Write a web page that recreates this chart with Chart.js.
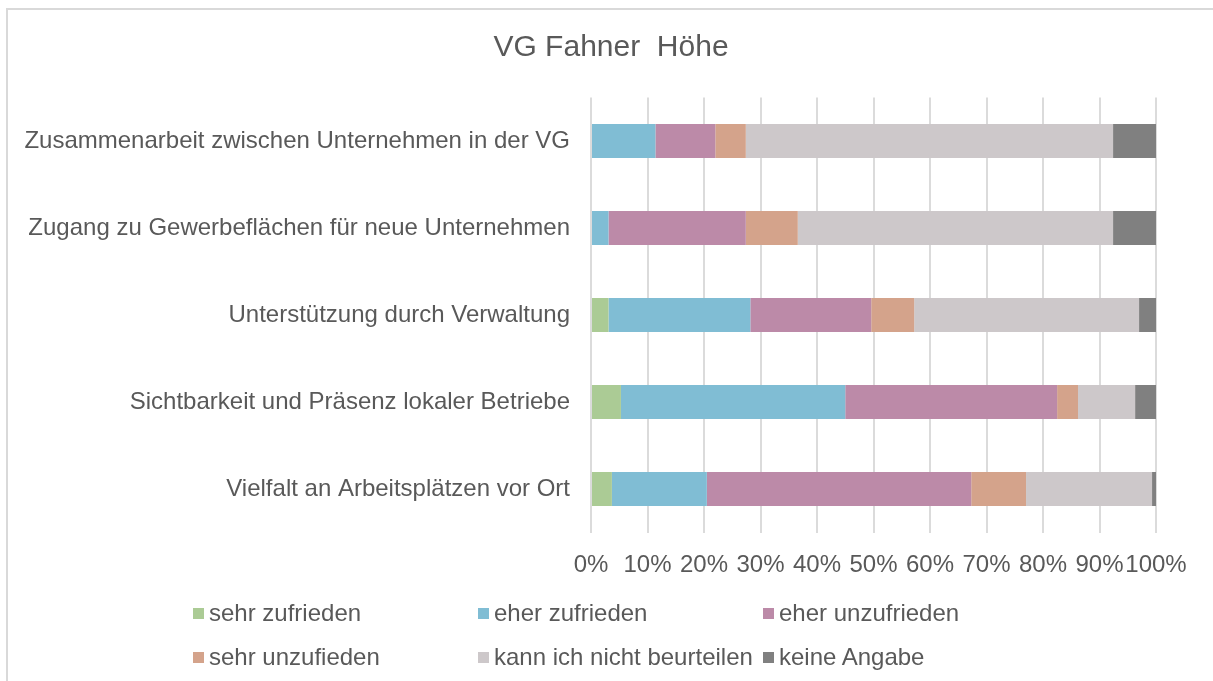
<!DOCTYPE html>
<html lang="de">
<head>
<meta charset="utf-8">
<title>VG Fahner Höhe</title>
<script src="https://cdn.jsdelivr.net/npm/chart.js@4.4.1/dist/chart.umd.min.js"></script>
<style>
  html, body { margin: 0; padding: 0; background: #fff; overflow: hidden; }
  #wrap { position: relative; width: 1213px; height: 681px; }
  #frame { position: absolute; left: 6px; top: 8px; width: 1230px; height: 700px;
           border: 2px solid #d9d9d9; box-sizing: border-box; }
  #chartBox { position: absolute; left: 0; top: 0; width: 1213px; height: 681px; }
  #legend { position: absolute; left: 193px; top: 591px;
            display: grid; grid-template-columns: 285px 285px auto; grid-auto-rows: 44px;
            font-family: "Liberation Sans", Arial, sans-serif; font-size: 24px; color: #595959; }
  #legend .item { display: flex; align-items: center; white-space: nowrap; }
  #legend .box { width: 11px; height: 11px; margin-right: 5px; flex: none; }
</style>
</head>
<body>
<div id="wrap">
  <div id="frame"></div>
  <div id="chartBox"><canvas id="satChart"></canvas></div>
  <div id="legend"></div>
</div>
<script>
const categories = [
  'Zusammenarbeit zwischen Unternehmen in der VG',
  'Zugang zu Gewerbeflächen für neue Unternehmen',
  'Unterstützung durch Verwaltung',
  'Sichtbarkeit und Präsenz lokaler Betriebe',
  'Vielfalt an Arbeitsplätzen vor Ort'
];

// Anteile in Prozent, je Aussage von oben nach unten
const sehrZufrieden   = [0, 0, 3.1, 5.3, 3.7];
const eherZufrieden   = [11.4, 3.1, 25.1, 39.7, 16.8];
const eherUnzufrieden = [10.6, 24.3, 21.4, 37.5, 46.8];
const sehrUnzufrieden = [5.4, 9.2, 7.6, 3.7, 9.7];
const nichtBeurteilen = [65.0, 55.8, 39.8, 10.1, 22.3];
const keineAngabe     = [7.6, 7.6, 3.0, 3.7, 0.7];

const tickLabels = ['0%', '10%', '20%', '30%', '40%', '50%', '60%', '70%', '80%', '90%', '100%'];

const FONT = '"Liberation Sans", Arial, sans-serif';
const TEXT = '#595959';
const TITLE = 'VG Fahner  Höhe';

const datasets = [
  { label: 'sehr zufrieden', data: sehrZufrieden, backgroundColor: '#abcb95' },
  { label: 'eher zufrieden', data: eherZufrieden, backgroundColor: '#80bdd4' },
  { label: 'eher unzufrieden', data: eherUnzufrieden, backgroundColor: '#bc8aa8' },
  { label: 'sehr unzufieden', data: sehrUnzufrieden, backgroundColor: '#d4a38b' },
  { label: 'kann ich nicht beurteilen', data: nichtBeurteilen, backgroundColor: '#cdc8ca' },
  { label: 'keine Angabe', data: keineAngabe, backgroundColor: '#808080' }
].map(d => Object.assign(d, { barPercentage: 0.39, categoryPercentage: 1, borderWidth: 0 }));

// Titel mittig über dem ganzen Rahmen, nicht nur über der Zeichenfläche
const frameTitle = {
  id: 'frameTitle',
  afterDraw(chart) {
    const c = chart.ctx;
    c.save();
    c.font = '30px ' + FONT;
    c.fillStyle = TEXT;
    c.textAlign = 'center';
    c.textBaseline = 'middle';
    c.fillText(TITLE, 611, 48);
    c.restore();
  }
};

const ctx = document.getElementById('satChart').getContext('2d');
const chart = new Chart(ctx, {
  type: 'bar',
  data: { labels: categories, datasets: datasets },
  plugins: [frameTitle],
  options: {
    indexAxis: 'y',
    responsive: true,
    maintainAspectRatio: false,
    animation: false,
    layout: { padding: { left: 0, right: 57, top: 97.5, bottom: 0 } },
    plugins: {
      legend: { display: false },
      tooltip: { enabled: false },
      title: { display: false }
    },
    scales: {
      x: {
        stacked: true,
        min: 0,
        max: 100,
        z: 1,
        border: { display: false },
        grid: { color: 'rgba(110,110,110,0.25)', lineWidth: 2, drawTicks: false },
        ticks: {
          stepSize: 10,
          padding: 18,
          color: TEXT,
          font: { family: FONT, size: 24 },
          maxRotation: 0,
          autoSkip: false,
          callback: (v, i) => tickLabels[i]
        },
        afterFit: s => { s.height = 148.5; }
      },
      y: {
        stacked: true,
        border: { display: false },
        grid: { display: false, drawTicks: false },
        ticks: { padding: 21, color: TEXT, font: { family: FONT, size: 24 } },
        afterFit: s => { s.width = 591; }
      }
    }
  }
});

// Legende in drei Spalten unter dem Diagramm
const legend = document.getElementById('legend');
chart.data.datasets.forEach(ds => {
  const item = document.createElement('div');
  item.className = 'item';
  const box = document.createElement('span');
  box.className = 'box';
  box.style.background = ds.backgroundColor;
  const txt = document.createElement('span');
  txt.textContent = ds.label;
  item.appendChild(box);
  item.appendChild(txt);
  legend.appendChild(item);
});
</script>
</body>
</html>
